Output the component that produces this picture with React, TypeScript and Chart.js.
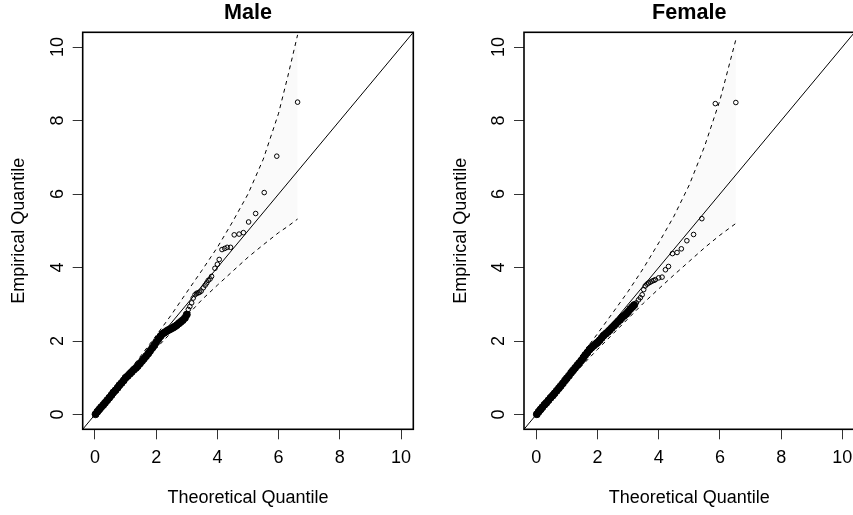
import React, { useEffect, useRef } from "react";
import { Chart, registerables } from "chart.js";

Chart.register(...registerables);

// ---- axes / text ----
const AXIS_MIN = -0.4;
const AXIS_MAX = 10.4;
const TICK_VALUES = [0, 2, 4, 6, 8, 10];
const TICK_LABELS = ["0", "2", "4", "6", "8", "10"];
const X_TITLE = "Theoretical Quantile";
const Y_TITLE = "Empirical Quantile";
const FONT = "'Liberation Sans', Arial, Helvetica, sans-serif";

// ---- Male ----
const MALE_DENSE_X = [0.02, 0.08, 0.14, 0.2, 0.27, 0.33, 0.4, 0.47, 0.54, 0.6, 0.67, 0.74, 0.8, 0.87, 0.94, 1.0, 1.07, 1.14, 1.2, 1.27, 1.34, 1.4, 1.47, 1.54, 1.6, 1.67, 1.74, 1.8, 1.87, 1.94, 2.0, 2.07, 2.14, 2.2, 2.27, 2.34, 2.4, 2.47, 2.54, 2.6, 2.67, 2.74, 2.8, 2.87, 2.94, 3.0];
const MALE_DENSE_Y = [0.01, 0.08, 0.14, 0.2, 0.26, 0.32, 0.39, 0.46, 0.53, 0.6, 0.66, 0.73, 0.8, 0.86, 0.93, 1.0, 1.05, 1.11, 1.16, 1.22, 1.27, 1.32, 1.39, 1.46, 1.52, 1.59, 1.66, 1.73, 1.81, 1.89, 1.97, 2.05, 2.13, 2.19, 2.23, 2.27, 2.3, 2.33, 2.36, 2.39, 2.43, 2.48, 2.52, 2.57, 2.63, 2.72];
const MALE_SPARSE_X = [3.05, 3.1, 3.16, 3.21, 3.27, 3.32, 3.37, 3.42, 3.47, 3.54, 3.6, 3.65, 3.7, 3.76, 3.81, 3.92, 4.0, 4.06, 4.15, 4.24, 4.32, 4.43, 4.55, 4.71, 4.85, 5.02, 5.25, 5.53, 5.94, 6.62];
const MALE_SPARSE_Y = [2.86, 2.94, 3.04, 3.17, 3.26, 3.3, 3.31, 3.33, 3.36, 3.45, 3.52, 3.58, 3.65, 3.69, 3.76, 3.98, 4.09, 4.22, 4.49, 4.52, 4.55, 4.55, 4.89, 4.91, 4.95, 5.24, 5.47, 6.04, 7.03, 8.5];
const MALE_ENV_X = [0, 0.5, 1, 1.5, 2, 2.5, 3, 3.5, 4, 4.5, 5, 5.5, 6, 6.3, 6.62];
const MALE_ENV_UPPER = [0.02, 0.54, 1.07, 1.6, 2.15, 2.72, 3.33, 3.93, 4.55, 5.25, 6.0, 6.95, 8.2, 9.2, 10.33];
const MALE_ENV_LOWER = [0, 0.45, 0.91, 1.36, 1.8, 2.24, 2.68, 3.13, 3.52, 3.9, 4.28, 4.62, 4.95, 5.12, 5.32];

// ---- Female ----
const FEMALE_DENSE_X = [0.02, 0.08, 0.14, 0.2, 0.27, 0.33, 0.4, 0.47, 0.54, 0.6, 0.67, 0.74, 0.8, 0.87, 0.94, 1.0, 1.07, 1.14, 1.2, 1.27, 1.34, 1.4, 1.47, 1.54, 1.6, 1.67, 1.74, 1.8, 1.87, 1.94, 2.0, 2.07, 2.14, 2.2, 2.27, 2.34, 2.4, 2.47, 2.54, 2.6, 2.67, 2.74, 2.8, 2.87, 2.94, 3.0, 3.07, 3.14, 3.2];
const FEMALE_DENSE_Y = [0.01, 0.08, 0.14, 0.2, 0.27, 0.32, 0.39, 0.46, 0.52, 0.58, 0.65, 0.72, 0.78, 0.85, 0.93, 0.99, 1.06, 1.14, 1.2, 1.27, 1.34, 1.4, 1.47, 1.55, 1.62, 1.69, 1.77, 1.82, 1.87, 1.92, 1.96, 2.02, 2.09, 2.15, 2.2, 2.25, 2.3, 2.36, 2.42, 2.47, 2.53, 2.58, 2.64, 2.69, 2.74, 2.8, 2.87, 2.93, 2.98];
const FEMALE_SPARSE_X = [3.27, 3.34, 3.4, 3.46, 3.51, 3.56, 3.62, 3.67, 3.72, 3.78, 3.84, 3.89, 4.0, 4.11, 4.22, 4.32, 4.45, 4.6, 4.74, 4.92, 5.14, 5.41, 5.85, 6.52];
const FEMALE_SPARSE_Y = [3.04, 3.12, 3.18, 3.26, 3.4, 3.5, 3.55, 3.58, 3.6, 3.63, 3.65, 3.67, 3.72, 3.74, 3.94, 4.03, 4.38, 4.41, 4.51, 4.73, 4.9, 5.33, 8.46, 8.49];
const FEMALE_ENV_X = [0, 0.5, 1, 1.5, 2, 2.5, 3, 3.5, 4, 4.5, 5, 5.5, 6, 6.52];
const FEMALE_ENV_UPPER = [0.02, 0.55, 1.09, 1.64, 2.2, 2.77, 3.35, 3.98, 4.67, 5.4, 6.25, 7.3, 8.55, 10.2];
const FEMALE_ENV_LOWER = [0, 0.45, 0.9, 1.34, 1.77, 2.19, 2.61, 3.03, 3.42, 3.8, 4.17, 4.54, 4.88, 5.2];

const zip = (xs: number[], ys: number[]) => xs.map((x, i) => ({ x, y: ys[i] }));

type PanelProps = {
  title: string;
  left: number;
  axisWidth: number;
  rightPad: number;
  denseX: number[];
  denseY: number[];
  sparseX: number[];
  sparseY: number[];
  envX: number[];
  envUpper: number[];
  envLower: number[];
};

const CANVAS_W = 430;
const CANVAS_H = 515;
const TOP_PAD = 32.3;
const X_AXIS_H = 85.7;

function Panel(p: PanelProps) {
  const ref = useRef<HTMLCanvasElement>(null);
  useEffect(() => {
    if (!ref.current) return;
    const decor = {
      id: "decor",
      afterDraw(chart: any) {
        const { ctx, chartArea: a, scales } = chart;
        const xs = scales.x;
        const ys = scales.y;
        ctx.save();
        ctx.strokeStyle = "#000";
        ctx.lineWidth = 1.6;
        ctx.strokeRect(a.left, a.top, a.right - a.left, a.bottom - a.top);
        ctx.fillStyle = "#000";
        ctx.textAlign = "center";
        ctx.textBaseline = "alphabetic";
        const cx = (a.left + a.right) / 2;
        ctx.font = `bold 21.6px ${FONT}`;
        ctx.fillText(p.title, cx, 18.8);
        ctx.font = `18px ${FONT}`;
        TICK_VALUES.forEach((v, i) => {
          ctx.fillText(TICK_LABELS[i], xs.getPixelForValue(v), a.bottom + 33.8);
        });
        ctx.fillText(X_TITLE, cx, a.bottom + 73.7);
        TICK_VALUES.forEach((v, i) => {
          ctx.save();
          ctx.translate(a.left - 20, ys.getPixelForValue(v));
          ctx.rotate(-Math.PI / 2);
          ctx.fillText(TICK_LABELS[i], 0, 0);
          ctx.restore();
        });
        ctx.save();
        ctx.translate(a.left - 58.5, (a.top + a.bottom) / 2);
        ctx.rotate(-Math.PI / 2);
        ctx.fillText(Y_TITLE, 0, 0);
        ctx.restore();
        ctx.restore();
      },
    };

    const axis = (which: "x" | "y") => ({
      type: "linear" as const,
      min: AXIS_MIN,
      max: AXIS_MAX,
      afterBuildTicks: (scale: any) => {
        scale.ticks = TICK_VALUES.map((v) => ({ value: v }));
      },
      afterFit: (scale: any) => {
        if (which === "y") scale.width = p.axisWidth;
        else scale.height = X_AXIS_H;
      },
      ticks: { display: false },
      border: { display: false },
      grid: {
        display: true,
        drawOnChartArea: false,
        drawTicks: true,
        tickLength: 10,
        color: "#333",
        lineWidth: 1,
      },
    });

    const chart = new Chart(ref.current, {
      type: "line",
      data: {
        datasets: [
          {
            data: zip(p.denseX, p.denseY),
            showLine: false,
            pointRadius: 3.5,
            pointBorderWidth: 1,
            pointBorderColor: "#000",
            pointBackgroundColor: "#000",
          },
          {
            data: zip(p.sparseX, p.sparseY),
            showLine: false,
            pointRadius: 2.3,
            pointBorderWidth: 1,
            pointBorderColor: "#000",
            pointBackgroundColor: "rgba(0,0,0,0)",
          },
          {
            data: [
              { x: AXIS_MIN, y: AXIS_MIN },
              { x: AXIS_MAX, y: AXIS_MAX },
            ],
            borderColor: "#000",
            borderWidth: 1,
            pointRadius: 0,
            fill: false,
          },
          {
            data: zip(p.envX, p.envUpper),
            borderColor: "#000",
            borderWidth: 1,
            borderDash: [4, 4],
            pointRadius: 0,
            fill: "+1",
            backgroundColor: "#FAFAFA",
          },
          {
            data: zip(p.envX, p.envLower),
            borderColor: "#000",
            borderWidth: 1,
            borderDash: [4, 4],
            pointRadius: 0,
            fill: false,
          },
        ],
      } as any,
      options: {
        animation: false,
        responsive: false,
        events: [],
        layout: { padding: { left: 0, right: p.rightPad, top: TOP_PAD, bottom: 0 } },
        scales: { x: axis("x"), y: axis("y") } as any,
        plugins: {
          legend: { display: false },
          tooltip: { enabled: false },
          title: { display: false },
          filler: { drawTime: "beforeDatasetsDraw" },
        } as any,
      },
      plugins: [decor],
    });
    return () => chart.destroy();
  }, []);
  return (
    <canvas
      ref={ref}
      width={CANVAS_W}
      height={CANVAS_H}
      style={{ position: "absolute", left: p.left, top: 0, width: CANVAS_W, height: CANVAS_H }}
    />
  );
}

export default function App() {
  return (
    <div
      style={{
        position: "fixed",
        left: 0,
        top: 0,
        width: 853,
        height: 515,
        overflow: "hidden",
        background: "#fff",
      }}
    >
      <Panel
        title="Male"
        left={0}
        axisWidth={82.7}
        rightPad={16.7}
        denseX={MALE_DENSE_X}
        denseY={MALE_DENSE_Y}
        sparseX={MALE_SPARSE_X}
        sparseY={MALE_SPARSE_Y}
        envX={MALE_ENV_X}
        envUpper={MALE_ENV_UPPER}
        envLower={MALE_ENV_LOWER}
      />
      <Panel
        title="Female"
        left={430}
        axisWidth={94}
        rightPad={5.4}
        denseX={FEMALE_DENSE_X}
        denseY={FEMALE_DENSE_Y}
        sparseX={FEMALE_SPARSE_X}
        sparseY={FEMALE_SPARSE_Y}
        envX={FEMALE_ENV_X}
        envUpper={FEMALE_ENV_UPPER}
        envLower={FEMALE_ENV_LOWER}
      />
    </div>
  );
}
